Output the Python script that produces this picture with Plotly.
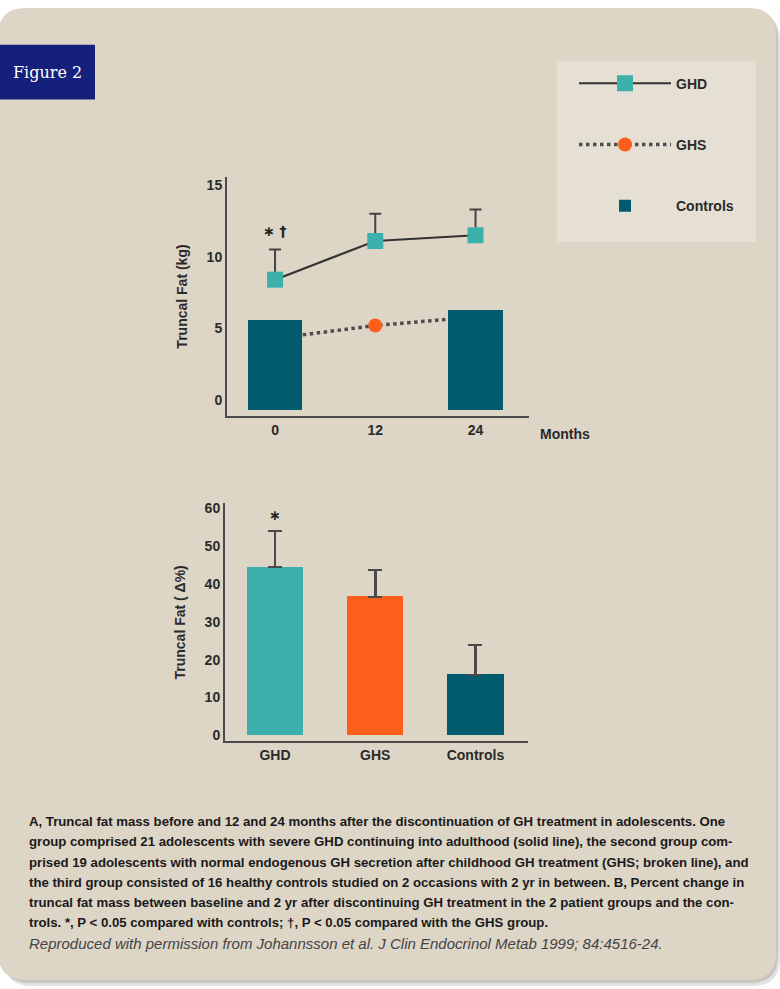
import plotly.graph_objects as go

# ---- data ----
months = [0, 12, 24]
ghd_fat = [8.4, 11.1, 11.5]
ghd_err = [2.1, 1.9, 1.8]
ghs_fat = [4.3, 5.2, 5.8]
ctrl_months = [0, 24]
ctrl_fat = [5.6, 6.3]
ctrl_base = -0.7

groups = ["GHD", "GHS", "Controls"]
change_pct = [44.5, 36.6, 16.0]
change_err = [9.5, 7.1, 7.9]

# ---- styling ----
W, H = 780, 989
TEAL = "#3eb0ac"
ORANGE = "#fd5f1a"
DARK = "#005b6e"
BEIGE = "#ddd5c6"
LEGBG = "#e6dfd3"
AXC = "#4a4a4a"
FONT = "Liberation Sans, Arial, sans-serif"


def px(x):
    return x / W


def py(y):
    return 1 - y / H


def rounded_rect(x0, y0, x1, y1, r):
    rx, ry = r / W, r / H
    X0, X1 = px(x0), px(x1)
    Y0, Y1 = py(y0), py(y1)
    return (f"M{X0 + rx},{Y0} L{X1 - rx},{Y0} Q{X1},{Y0} {X1},{Y0 - ry} "
            f"L{X1},{Y1 + ry} Q{X1},{Y1} {X1 - rx},{Y1} "
            f"L{X0 + rx},{Y1} Q{X0},{Y1} {X0},{Y1 + ry} "
            f"L{X0},{Y0 - ry} Q{X0},{Y0} {X0 + rx},{Y0} Z")


fig = go.Figure()

# GHS (broken line) sits underneath the control bars
fig.add_trace(go.Scatter(
    x=months, y=ghs_fat, name="GHS", mode="lines+markers",
    line=dict(color="#4d4d4d", width=3.5, dash="dot"),
    marker=dict(symbol="circle", size=14, color=ORANGE),
    xaxis="x", yaxis="y", legendgroup="b", legendrank=2,
))
# Controls bars
fig.add_trace(go.Bar(
    x=ctrl_months, y=[v - ctrl_base for v in ctrl_fat], base=ctrl_base,
    name="Controls", marker=dict(color=DARK, line=dict(width=0)),
    width=6.5, xaxis="x3", yaxis="y3", legendgroup="c", legendrank=3,
))
# GHD (solid line) with upward SD bars
fig.add_trace(go.Scatter(
    x=months, y=ghd_fat, name="GHD", mode="lines+markers",
    line=dict(color="#333333", width=2.2),
    marker=dict(symbol="square", size=16, color=TEAL),
    error_y=dict(type="data", symmetric=False, array=ghd_err,
                 arrayminus=[0, 0, 0], color="#444444", thickness=2, width=6),
    xaxis="x3", yaxis="y3", legendgroup="a", legendrank=1,
))

# Panel B bars
fig.add_trace(go.Bar(
    x=[0, 1, 2], y=change_pct, width=0.56,
    marker=dict(color=[TEAL, ORANGE, DARK], line=dict(width=0)),
    error_y=dict(type="data", symmetric=False, array=change_err,
                 arrayminus=[0, 0, 0], color="#4a4a4a", thickness=2.5, width=7),
    xaxis="x2", yaxis="y2", showlegend=False,
))

top_x_range = [-5.75, 30.4]
top_y_range = [-1.11, 15.56]
top_xdom = [px(227), px(529)]
top_ydom = [py(415), py(175)]

LABEL_FONT = dict(family=FONT, size=14, color="#2a2a2a", weight="bold")
axis_common = dict(showgrid=False, zeroline=False, ticks="", tickfont=LABEL_FONT)

fig.update_layout(
    width=W, height=H,
    margin=dict(l=0, r=0, t=0, b=0),
    paper_bgcolor="white", plot_bgcolor="rgba(0,0,0,0)",
    bargap=0,
    font=dict(family=FONT, color="#222222"),
    xaxis=dict(domain=top_xdom, range=top_x_range, tickvals=months,
               ticktext=["0", "12", "24"], showline=True, linecolor=AXC,
               linewidth=2, anchor="y", **axis_common),
    yaxis=dict(domain=top_ydom, range=top_y_range, tickvals=[0, 5, 10, 15],
               showline=True, linecolor=AXC, linewidth=2, anchor="x",
               title=dict(text="Truncal Fat (kg)", standoff=16, font=LABEL_FONT),
               **axis_common),
    xaxis3=dict(domain=top_xdom, range=top_x_range, overlaying="x", visible=False,
                anchor="y3"),
    yaxis3=dict(domain=top_ydom, range=top_y_range, overlaying="y", visible=False,
                anchor="x3"),
    xaxis2=dict(domain=[px(225), px(528)], range=[-0.499, 2.524], tickvals=[0, 1, 2],
                ticktext=groups, showline=True, linecolor=AXC, linewidth=2,
                anchor="y2", **axis_common),
    yaxis2=dict(domain=[py(742), py(503)], range=[-1.58, 61.3],
                tickvals=[0, 10, 20, 30, 40, 50, 60], showline=True, linecolor=AXC,
                linewidth=2, anchor="x2",
                title=dict(text="Truncal Fat ( \u0394%)", standoff=16, font=LABEL_FONT),
                **axis_common),
    legend=dict(x=px(574), y=py(65), xanchor="left", yanchor="top",
                bgcolor="rgba(0,0,0,0)", itemwidth=92, tracegroupgap=40,
                font=LABEL_FONT, traceorder="grouped"),
)

shapes = [
    # soft drop shadow
    dict(type="path", xref="paper", yref="paper", layer="below",
         path=rounded_rect(4, 10, 780, 988, 28),
         fillcolor="#e2e2e2", line=dict(width=0)),
    dict(type="path", xref="paper", yref="paper", layer="below",
         path=rounded_rect(2, 8, 778, 985, 28),
         fillcolor="#c9c6c1", line=dict(width=0)),
    # panel
    dict(type="path", xref="paper", yref="paper", layer="below",
         path=rounded_rect(-2, 5, 776, 982, 28),
         fillcolor=BEIGE, line=dict(width=0)),
    # legend box
    dict(type="rect", xref="paper", yref="paper", layer="below",
         x0=px(557), x1=px(756), y0=py(240), y1=py(58),
         fillcolor=LEGBG, line=dict(width=0)),
    # figure tag
    dict(type="rect", xref="paper", yref="paper", layer="below",
         x0=px(0), x1=px(95), y0=py(97), y1=py(42),
         fillcolor="#14207c", line=dict(width=0)),
]
fig.update_layout(shapes=shapes)

annotations = [
    dict(text="Figure 2", xref="paper", yref="paper", x=px(47), y=py(70),
         showarrow=False, xanchor="center", yanchor="middle",
         font=dict(family="DejaVu Serif, Liberation Serif, serif", size=16, color="white")),
    dict(text="Months", xref="paper", yref="paper", x=px(538), y=py(433),
         showarrow=False, xanchor="left", yanchor="middle", font=LABEL_FONT),
    dict(text="\u2217 \u2020", xref="x3", yref="y3", x=months[0], y=11.8,
         showarrow=False, xanchor="center", yanchor="middle",
         font=dict(family="DejaVu Sans", size=14, color="#222", weight="bold")),
    dict(text="\u2217", xref="x2", yref="y2", x=0, y=58.2,
         showarrow=False, xanchor="center", yanchor="middle",
         font=dict(family="DejaVu Sans", size=14, color="#222", weight="bold")),
]

caption = [
    "A, Truncal fat mass before and 12 and 24 months after the discontinuation of GH treatment in adolescents. One",
    "group comprised 21 adolescents with severe GHD continuing into adulthood (solid line), the second group com-",
    "prised 19 adolescents with normal endogenous GH secretion after childhood GH treatment (GHS; broken line), and",
    "the third group consisted of 16 healthy controls studied on 2 occasions with 2 yr in between. B, Percent change in",
    "truncal fat mass between baseline and 2 yr after discontinuing GH treatment in the 2 patient groups and the con-",
    "trols. *, P < 0.05 compared with controls; \u2020, P < 0.05 compared with the GHS group.",
]
cap_y0, cap_dy = 823, 20.2
for i, line in enumerate(caption):
    annotations.append(dict(
        text=line, xref="paper", yref="paper", x=px(27), y=py(cap_y0 + i * cap_dy),
        showarrow=False, xanchor="left", yanchor="middle",
        font=dict(family=FONT, size=13.2, color="#1a1a1a", weight="bold")))
annotations.append(dict(
    text="<i>Reproduced with permission from Johannsson et al. J Clin Endocrinol Metab 1999; 84:4516-24.</i>",
    xref="paper", yref="paper", x=px(27), y=py(cap_y0 + 6 * cap_dy + 1),
    showarrow=False, xanchor="left", yanchor="middle",
    font=dict(family=FONT, size=15, color="#444444")))

fig.update_layout(annotations=annotations)

fig.write_html("out.html")
